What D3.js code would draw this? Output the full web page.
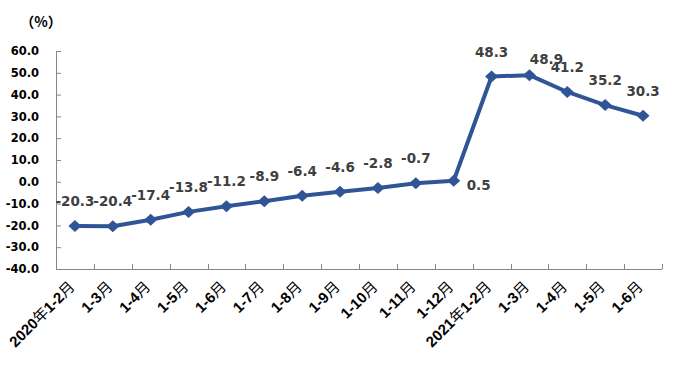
<!DOCTYPE html>
<html>
<head>
<meta charset="utf-8">
<script src="https://cdn.jsdelivr.net/npm/d3@7"></script>
<style>
html,body{margin:0;padding:0;background:#fff;}
svg{display:block;}
</style>
</head>
<body>
<svg id="chart" width="675" height="382"></svg>
<script>
const categories = ["2020年1-2月","1-3月","1-4月","1-5月","1-6月","1-7月","1-8月","1-9月","1-10月","1-11月","1-12月","2021年1-2月","1-3月","1-4月","1-5月","1-6月"];
const values = [-20.3,-20.4,-17.4,-13.8,-11.2,-8.9,-6.4,-4.6,-2.8,-0.7,0.5,48.3,48.9,41.2,35.2,30.3];
const yTicks = [-40,-30,-20,-10,0,10,20,30,40,50,60];
const unitLabel = "（%）";

(function () {
const svg = d3.select("#chart");
const FONT = "'Liberation Sans', Arial, 'Noto Sans CJK SC', sans-serif";
const NUMFONT = "'DejaVu Sans', Verdana, sans-serif";
const CJK = "'Noto Sans CJK SC', sans-serif";
const mLeft = 56, mRight = 662, mTop = 51, mBottom = 269;
const fmt = v => v.toFixed(1);

const x = d3.scaleBand().domain(d3.range(categories.length)).range([mLeft, mRight]).padding(0);
const y = d3.scaleLinear().domain([-40, 60]).range([mBottom, mTop]);
const cx = i => x(i) + x.bandwidth() / 2;

// y axis
const yAxis = d3.axisLeft(y).tickValues(yTicks).tickFormat(fmt).tickSizeInner(-5).tickSizeOuter(0).tickPadding(17);
const gy = svg.append("g").attr("transform", `translate(${mLeft},0)`).call(yAxis);
gy.select(".domain").attr("stroke", "#868686").attr("stroke-width", 1);
gy.selectAll(".tick line").attr("stroke", "#868686");
gy.selectAll(".tick text").attr("font-family", NUMFONT).attr("font-size", 11.5).attr("font-weight", "bold").attr("fill", "#000");

// x axis line
svg.append("line").attr("x1", mLeft).attr("x2", mRight).attr("y1", mBottom + 0.5).attr("y2", mBottom + 0.5)
  .attr("stroke", "#868686").attr("stroke-width", 1);
// x ticks at band boundaries
svg.append("g").selectAll("line").data(d3.range(categories.length))
  .join("line")
  .attr("x1", i => Math.round(x(i) + x.bandwidth()) + 0.5)
  .attr("x2", i => Math.round(x(i) + x.bandwidth()) + 0.5)
  .attr("y1", mBottom - 5).attr("y2", mBottom)
  .attr("stroke", "#868686");

// x labels (latin bold, CJK regular)
const xl = svg.append("g").selectAll("text").data(categories)
  .join("text")
  .attr("transform", (d, i) => `translate(${cx(i) - 3},${mBottom + 15}) rotate(-45)`)
  .attr("text-anchor", "end")
  .attr("dy", "0.35em")
  .attr("font-family", FONT).attr("font-size", 15).attr("fill", "#000");
xl.each(function (d) {
  const parts = d.match(/[\u4e00-\u9fff]+|[^\u4e00-\u9fff]+/g);
  const t = d3.select(this);
  parts.forEach(p => {
    const isCJK = /[\u4e00-\u9fff]/.test(p);
    t.append("tspan").text(p)
      .attr("font-family", isCJK ? CJK : FONT)
      .attr("font-weight", isCJK ? "normal" : "bold");
  });
});

// unit label
svg.append("text").attr("x", 41).attr("y", 27).attr("text-anchor", "middle")
  .attr("font-family", CJK).attr("font-size", 14).attr("font-weight", "bold").attr("fill", "#000")
  .text(unitLabel);

// line
const line = d3.line().x((d, i) => cx(i)).y(d => y(d));
svg.append("path").datum(values).attr("d", line)
  .attr("fill", "none").attr("stroke", "#2F5597").attr("stroke-width", 4).attr("stroke-linejoin", "round");

// markers
svg.append("g").selectAll("path").data(values).join("path")
  .attr("transform", (d, i) => `translate(${cx(i)},${y(d)})`)
  .attr("d", "M0,-6L6.5,0L0,6L-6.5,0Z")
  .attr("fill", "#2F5597");

// data labels
const labelOffsets = {10: {dx: 13, dy: 9, anchor: "start"}, 12: {dx: 17, dy: -11, anchor: "middle"}};
svg.append("g").selectAll("text").data(values).join("text")
  .attr("x", (d, i) => cx(i) + (labelOffsets[i] ? labelOffsets[i].dx : 0))
  .attr("y", (d, i) => y(d) + (labelOffsets[i] ? labelOffsets[i].dy : -20))
  .attr("text-anchor", (d, i) => labelOffsets[i] ? labelOffsets[i].anchor : "middle")
  .attr("font-family", NUMFONT).attr("font-size", 13.5).attr("font-weight", "bold").attr("fill", "#404040")
  .text(d => fmt(d));
})();
</script>
</body>
</html>
